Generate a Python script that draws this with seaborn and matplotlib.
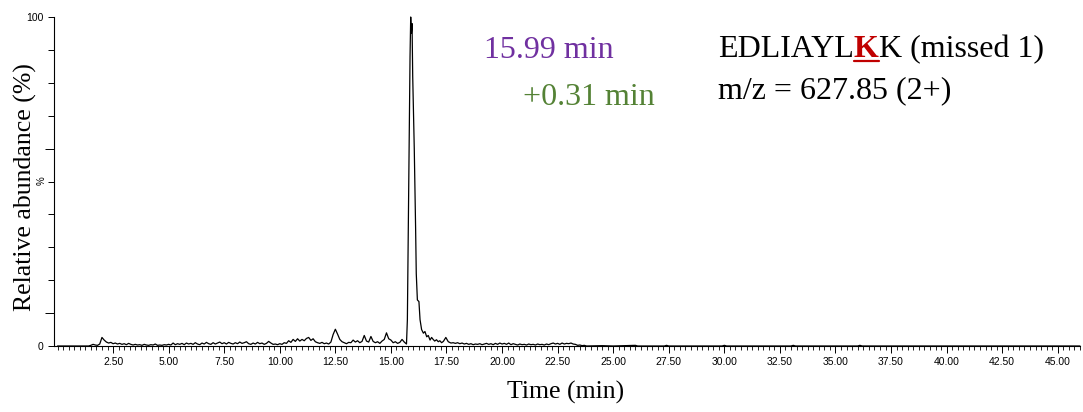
import numpy as np
import pandas as pd
import seaborn as sns
import matplotlib.pyplot as plt
from matplotlib.lines import Line2D
from matplotlib.ticker import MultipleLocator, FixedLocator, FuncFormatter

# --- chromatogram trace ---
time_min = [
    0.0, 1.4, 1.5, 1.6, 1.7, 1.8, 1.9, 2.0, 2.1, 2.2, 2.3, 2.4, 2.5, 2.6, 2.7, 2.8, 2.9,
    3.0, 3.1, 3.2, 3.3, 3.4, 3.5, 3.6, 3.7, 3.8, 3.9, 4.0, 4.1, 4.2, 4.3, 4.4, 4.5, 4.6,
    4.7, 4.8, 4.9, 5.0, 5.1, 5.2, 5.3, 5.4, 5.5, 5.6, 5.7, 5.8, 5.9, 6.0, 6.1, 6.2, 6.3,
    6.4, 6.5, 6.6, 6.7, 6.8, 6.9, 7.0, 7.1, 7.2, 7.3, 7.4, 7.5, 7.6, 7.7, 7.8, 7.9, 8.0,
    8.1, 8.2, 8.3, 8.4, 8.5, 8.6, 8.7, 8.8, 8.9, 9.0, 9.1, 9.2, 9.3, 9.4, 9.5, 9.6, 9.7,
    9.8, 9.9, 10.0, 10.1, 10.2, 10.3, 10.4, 10.5, 10.6, 10.7, 10.8, 10.9, 11.0, 11.1,
    11.2, 11.3, 11.4, 11.5, 11.6, 11.7, 11.8, 11.9, 12.0, 12.1, 12.2, 12.3, 12.4, 12.5,
    12.6, 12.7, 12.8, 12.9, 13.0, 13.1, 13.2, 13.3, 13.4, 13.5, 13.6, 13.7, 13.8, 13.9,
    14.0, 14.1, 14.2, 14.3, 14.4, 14.5, 14.6, 14.7, 14.8, 14.9, 15.0, 15.1, 15.2, 15.3,
    15.4, 15.5, 15.6, 15.7,
    15.74, 15.78, 15.82, 15.86, 15.89, 15.92, 15.95, 15.98, 16.05, 16.11, 16.14, 16.19,
    16.26, 16.31, 16.38, 16.46, 16.53, 16.61, 16.68, 16.76, 16.83, 16.9, 16.97, 17.05,
    17.13, 17.2, 17.28, 17.36, 17.47, 17.58, 17.7,
    17.8, 17.9, 18.0, 18.1, 18.2, 18.3, 18.4, 18.5, 18.6, 18.7, 18.8, 18.9, 19.0, 19.1,
    19.2, 19.3, 19.4, 19.5, 19.6, 19.7, 19.8, 19.9, 20.0, 20.1, 20.2, 20.3, 20.4, 20.5,
    20.6, 20.7, 20.8, 20.9, 21.0, 21.1, 21.2, 21.3, 21.4, 21.5, 21.6, 21.7, 21.8, 21.9,
    22.0, 22.1, 22.2, 22.3, 22.4, 22.5, 22.6, 22.7, 22.8, 22.9, 23.0, 23.1, 23.2, 23.3,
    23.4, 23.5, 23.6, 23.7, 23.8,
    24.5, 25.0, 26.0, 26.1, 27.3, 27.4, 27.5, 29.9, 30.0, 30.1, 33.0, 33.1, 33.2,
    36.0, 36.1, 36.2, 46.0,
]
abundance = [
    0.0, 0.0, 0.2, 0.5, 0.3, 0.2, 0.6, 2.6, 1.8, 1.2, 0.9, 1.1, 0.7, 0.9, 0.6, 0.8, 0.5,
    0.7, 0.4, 0.8, 0.5, 0.3, 0.5, 0.3, 0.4, 0.2, 0.5, 0.3, 0.2, 0.4, 0.3, 0.6, 0.2, 0.3,
    0.2, 0.4, 0.3, 0.5, 0.3, 0.9, 0.4, 0.7, 0.5, 0.8, 0.4, 0.9, 0.6, 0.8, 0.5, 1.0, 0.6,
    0.4, 0.9, 0.6, 1.1, 0.7, 0.5, 1.0, 0.6, 0.9, 1.2, 0.7, 1.0, 0.6, 1.1, 0.8, 0.6, 1.0,
    0.7, 1.2, 0.8, 1.0, 1.3, 0.7, 0.5, 0.9, 0.6, 1.1, 0.7, 0.9, 0.5, 0.8, 1.4, 0.9, 0.5,
    0.6, 0.4, 0.7, 0.5, 1.0, 0.8, 1.6, 1.1, 2.0, 1.4, 2.2, 1.5, 2.0, 1.6,
    2.3, 2.6, 1.7, 2.2, 1.3, 1.0, 0.8, 1.1, 0.7, 0.9, 0.6, 1.2, 3.5, 5.1,
    3.6, 2.0, 1.3, 1.0, 0.7, 1.1, 1.0, 1.8, 1.2, 1.6, 1.0, 1.4, 3.2, 1.5,
    1.2, 2.9, 1.4, 1.0, 1.3, 0.8, 1.5, 2.0, 4.0, 2.2, 1.8, 1.0, 1.3, 0.8,
    1.1, 2.0, 1.2, 0.6,
    8.0, 35.0, 62.0, 88.0, 100.0, 95.0, 98.0, 82.0, 60.0, 36.0, 22.0, 14.0,
    13.5, 8.0, 5.0, 3.9, 4.4, 2.8, 3.2, 1.8, 2.6, 2.0, 1.5, 1.9,
    1.3, 1.6, 1.0, 1.4, 2.6, 1.3, 0.9,
    1.0, 0.8, 1.0, 0.7, 0.9, 0.6, 0.8, 0.5, 0.7, 0.4, 0.6, 0.5, 0.7, 0.4,
    0.6, 0.8, 0.5, 0.7, 0.4, 0.8, 0.5, 0.9, 0.6, 0.8, 0.5, 0.9, 0.4, 0.7,
    0.5, 0.3, 0.6, 0.4, 0.5, 0.3, 0.6, 0.4, 0.5, 0.3, 0.6, 0.4, 0.5, 0.3,
    0.6, 0.4, 0.7, 0.9, 0.6, 0.8, 0.5, 0.9, 0.6, 0.8, 0.7, 0.9, 0.6, 0.5,
    0.2, 0.3, 0.1, 0.2, 0.0,
    0.1, 0.0, 0.2, 0.0, 0.0, 0.2, 0.0, 0.0, 0.2, 0.0, 0.0, 0.2, 0.0,
    0.0, 0.2, 0.0, 0.0,
]

x_major = [2.5, 5.0, 7.5, 10.0, 12.5, 15.0, 17.5, 20.0, 22.5, 25.0, 27.5, 30.0,
           32.5, 35.0, 37.5, 40.0, 42.5, 45.0]
y_ticks = [0, 10, 20, 30, 40, 50, 60, 70, 80, 90, 100]
y_labelled = [0, 100]

rt_label = "15.99 min"
shift_label = "+0.31 min"
peptide_pre, peptide_mark, peptide_post = "EDLIAYL", "K", "K (missed 1)"
mz_label = "m/z = 627.85 (2+)"

W, H = 1083, 412
SERIF = ["Liberation Serif", "DejaVu Serif"]
SANS = ["Liberation Sans", "DejaVu Sans"]

sns.set_style("ticks")
plt.rcParams["font.family"] = SANS
plt.rcParams["text.color"] = "black"
plt.rcParams["xtick.color"] = "black"
plt.rcParams["ytick.color"] = "black"

df = pd.DataFrame({"time": time_min, "abund": abundance})

fig = plt.figure(figsize=(W / 100, H / 100), dpi=100)
ax = fig.add_axes([53.5 / W, 66 / H, (1080 - 53.5) / W, (346 - 17) / H])

sns.lineplot(data=df, x="time", y="abund", color="black", lw=0.9,
             estimator=None, sort=False, ax=ax)
for ln in ax.get_lines():
    ln.set_clip_on(False)

ax.set_xlim(-0.18, 46.0)
ax.set_ylim(0, 100)
sns.despine(ax=ax)
for s in ("left", "bottom"):
    ax.spines[s].set_linewidth(0.8)
    ax.spines[s].set_color("black")

ax.xaxis.set_major_locator(FixedLocator(x_major))
ax.xaxis.set_minor_locator(MultipleLocator(0.25))
ax.xaxis.set_major_formatter(FuncFormatter(lambda v, p: f"{v:.2f}"))
ax.tick_params(axis="x", which="major", length=5, width=0.7, pad=3,
               labelsize=7.5, colors="black", bottom=True)
ax.tick_params(axis="x", which="minor", length=3, width=0.6, bottom=True,
               color="black")

# y: every 10 % ticked, only 0 and 100 labelled (and drawn longer)
ax.yaxis.set_major_locator(FixedLocator(y_ticks))
ax.yaxis.set_minor_locator(FixedLocator([]))
ax.yaxis.set_major_formatter(
    FuncFormatter(lambda v, p: f"{v:.0f}" if round(v) in y_labelled else ""))
ax.tick_params(axis="y", which="major", length=4, width=0.7, pad=3,
               labelsize=7.5, colors="black", left=True)
for t in ax.yaxis.get_major_ticks():
    if round(t.get_loc()) in y_labelled:
        t.tick1line.set_markersize(6.5)
ax.set_xlabel("")
ax.set_ylabel("")


def fx(px):
    return px / W


def fy(py):
    return 1 - py / H


fig.text(fx(42), fy(181), "%", rotation=90, fontsize=7, ha="center", va="center",
         family=SANS)
fig.text(fx(25), fy(187), "Relative abundance (%)", rotation=90, fontsize=18.5,
         ha="center", va="center", family=SERIF)
fig.text(fx(566), fy(392), "Time (min)", fontsize=18.5, ha="center", va="center",
         family=SERIF)

# retention time annotations
fig.text(fx(484), fy(58), rt_label, fontsize=23, color="#7030a0", family=SERIF,
         va="baseline")
fig.text(fx(523), fy(105), shift_label, fontsize=23, color="#548235", family=SERIF,
         va="baseline")

# peptide name with the highlighted lysine
renderer = fig.canvas.get_renderer()
t1 = fig.text(fx(718), fy(57), peptide_pre, fontsize=23, family=SERIF, va="baseline")
bb1 = t1.get_window_extent(renderer)
t2 = fig.text(bb1.x1 / W, fy(57), peptide_mark, fontsize=23, family=SERIF,
              va="baseline", weight="bold", color="#c00000")
bb2 = t2.get_window_extent(renderer)
fig.text(bb2.x1 / W, fy(57), peptide_post, fontsize=23, family=SERIF, va="baseline")
fig.add_artist(Line2D([bb2.x0 / W, bb2.x1 / W], [fy(61), fy(61)],
                      transform=fig.transFigure, color="#c00000", lw=1.6))
fig.text(fx(718), fy(98), mz_label, fontsize=23, family=SERIF, va="baseline")

fig.savefig("out.png", dpi=100)
